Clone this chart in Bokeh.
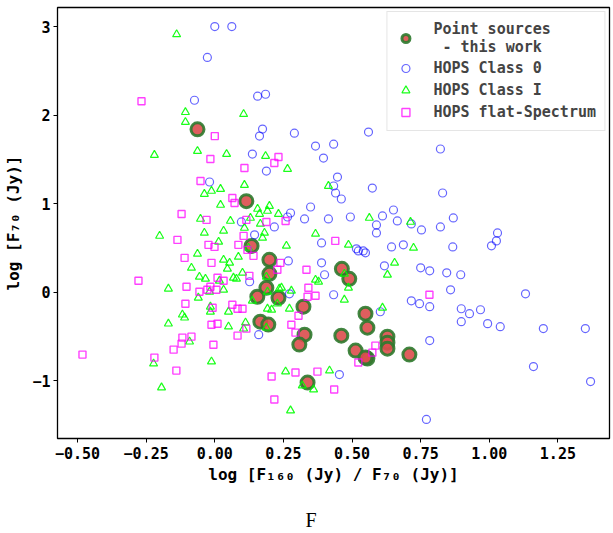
from bokeh.plotting import figure
from bokeh.models import (Range1d, FixedTicker, CustomJSTickFormatter, Legend,
                          LegendItem, LinearAxis)
from bokeh.embed import file_html
from bokeh.resources import INLINE

# ---------------- data ----------------
# Point sources - this work
ps_x = [-0.063, 0.115, 0.134, 0.199, 0.199, 0.188, 0.232, 0.155, 0.166, 0.195,
        0.323, 0.327, 0.308, 0.338, 0.463, 0.490, 0.549, 0.556, 0.461, 0.513,
        0.556, 0.549, 0.629, 0.629, 0.629, 0.709]
ps_y = [1.843, 1.032, 0.526, 0.369, 0.211, 0.053, -0.060, -0.048, -0.330, -0.363,
        -0.160, -0.477, -0.589, -1.018, 0.267, 0.154, -0.240, -0.398, -0.488, -0.657,
        -0.747, -0.736, -0.499, -0.567, -0.635, -0.702]

# HOPS Class 0
c0_x = [0.000, 0.062, -0.027, -0.074, 0.156, 0.185, 0.174, 0.163, 0.290, 0.367,
        0.433, 0.396, 0.560, 0.822, 0.137, 0.188, -0.019, 0.447, 0.433, 0.440,
        0.461, 0.574, 0.830, 0.349, 0.276, 0.265, 0.327, 0.414, 0.494, 0.611,
        0.651, 0.665, 0.589, 0.589, 0.753, 0.822, 0.869, 0.716, 0.217, 0.097,
        0.145, 1.030, 1.026, 1.008, 0.389, 0.644, 0.687, 0.516, 0.523, 0.541,
        0.549, 0.867, 0.268, 0.389, 0.400, 0.618, 0.750, 0.783, 0.845, 0.896,
        0.859, 1.132, 0.272, 0.433, 0.127, 0.160, 0.603, 0.716, 0.746, 0.783,
        0.898, 0.928, 0.968, 0.898, 0.994, 1.040, 1.197, 1.350, 0.783, 1.161,
        1.369, 0.454, 0.771]
c0_y = [3.005, 3.005, 2.656, 2.172, 2.218, 2.240, 1.846, 1.767, 1.800, 1.654,
        1.676, 1.519, 1.812, 1.621, 1.564, 1.372, 1.248, 1.304, 1.203, 1.124,
        1.056, 1.180, 1.124, 0.966, 0.898, 0.853, 0.831, 0.831, 0.853, 0.865,
        0.932, 0.808, 0.763, 0.673, 0.707, 0.741, 0.842, 0.775, 0.741, 0.797,
        0.651, 0.673, 0.583, 0.527, 0.560, 0.515, 0.538, 0.493, 0.470, 0.470,
        0.448, 0.515, 0.357, 0.335, 0.200, 0.301, 0.278, 0.245, 0.222, 0.200,
        0.030, -0.015, -0.015, -0.026, 0.121, -0.477, -0.218, -0.094, -0.127, -0.161,
        -0.184, -0.240, -0.195, -0.330, -0.352, -0.386, -0.408, -0.408, -0.544, -0.837,
        -1.007, -0.928, -1.435]

# HOPS Class I
c1_x = [-0.139, -0.107, -0.107, 0.105, -0.220, -0.063, 0.043, 0.185, 0.265, 0.108,
        0.414, -0.038, -0.012, 0.021, 0.021, 0.156, 0.199, 0.192, 0.163, 0.232,
        -0.052, 0.057, 0.130, 0.166, 0.367, -0.038, 0.032, 0.108, 0.181, 0.174,
        -0.201, 0.563, 0.713, 0.261, 0.487, 0.724, 0.655, 0.629, 0.472, 0.367,
        0.378, 0.487, 0.279, 0.472, 0.272, 0.611, 0.243, 0.235, 0.192, 0.188,
        0.258, 0.418, 0.319, 0.360, 0.276, 0.014, -0.063, 0.086, 0.032, 0.054,
        0.123, -0.085, 0.046, 0.101, -0.056, -0.034, 0.017, 0.068, 0.079, -0.169,
        -0.019, 0.032, -0.060, -0.016, -0.016, 0.050, 0.137, 0.112, 0.105, 0.050,
        0.188, -0.110, -0.118, -0.092, -0.169, -0.223, -0.012, -0.194, 0.207, 0.228,
        0.192]
c1_y = [2.916, 2.037, 1.925, 2.015, 1.553, 1.598, 1.564, 1.541, 1.395, 1.214,
        1.203, 1.113, 1.147, 1.169, 0.989, 0.944, 0.977, 0.921, 0.887, 0.887,
        0.831, 0.808, 0.842, 0.775, 0.662, 0.673, 0.696, 0.729, 0.673, 0.617,
        0.639, 0.842, 0.797, 0.527, 0.538, 0.504, 0.335, 0.200, 0.211, 0.143,
        0.121, 0.053, 0.019, -0.082, -0.184, -0.173, 0.053, 0.042, 0.008, 0.177,
        -0.894, -0.883, -1.052, -1.097, -1.334, 0.572, 0.436, 0.402, 0.369, 0.335,
        0.504, 0.278, 0.267, 0.222, 0.177, 0.154, 0.132, 0.166, 0.154, 0.042,
        0.008, 0.030, -0.060, -0.161, -0.218, -0.218, -0.094, -0.341, -0.409, -0.386,
        -0.398, -0.285, -0.251, -0.556, -0.353, -0.804, -0.781, -1.074, -0.195, -0.127,
        -0.184]

# HOPS flat-Spectrum
fs_x = [-0.267, 0.000, -0.016, 0.108, 0.232, 0.217, -0.052, 0.064, 0.072, -0.121,
        -0.030, 0.115, 0.188, 0.258, -0.136, 0.105, -0.023, -0.001, 0.086, 0.119,
        0.141, -0.110, -0.012, 0.239, 0.228, 0.334, 0.126, 0.010, 0.032, -0.278,
        -0.103, -0.056, -0.027, 0.006, -0.016, 0.341, 0.338, 0.367, -0.107, 0.064,
        0.083, 0.101, -0.008, 0.305, 0.279, 0.010, -0.012, 0.115, 0.083, 0.294,
        -0.118, -0.085, -0.121, -0.005, -0.482, -0.220, -0.150, -0.140, 0.207, 0.217,
        0.294, 0.374, 0.435, 0.782, 0.585, 0.574, 0.523, 0.439]
fs_y = [2.161, 1.767, 1.508, 1.406, 1.530, 1.463, 1.259, 1.068, 1.011, 0.887,
        0.820, 0.820, 0.797, 0.808, 0.594, 0.639, 0.538, 0.515, 0.538, 0.481,
        0.414, 0.391, 0.335, 0.335, 0.256, 0.256, 0.188, 0.166, 0.132, 0.132,
        0.064, 0.008, 0.030, 0.030, 0.064, 0.053, -0.048, -0.037, -0.127, -0.139,
        -0.184, -0.184, -0.173, -0.263, -0.364, -0.353, -0.364, -0.409, -0.488, -0.454,
        -0.510, -0.499, -0.578, -0.590, -0.702, -0.736, -0.646, -0.883, -0.950, -1.210,
        -0.905, -0.894, -1.097, -0.026, -0.601, -0.680, -0.792, 0.583]

x_ticks = [-0.5, -0.25, 0.0, 0.25, 0.5, 0.75, 1.0, 1.25]
y_ticks = [-1, 0, 1, 2, 3]

x_label = "log [F\u2081\u2086\u2080 (Jy) / F\u2087\u2080 (Jy)]"
y_label = "log [F\u2087\u2080 (Jy)]"
legend_labels = ["Point sources\n - this work", "HOPS Class 0", "HOPS Class I",
                 "HOPS flat-Spectrum"]
caption = "F"

MONO = "DejaVu Sans Mono"

# ---------------- figure ----------------
p = figure(width=613, height=533, output_backend="svg", toolbar_location=None,
           x_range=Range1d(-0.573, 1.438), y_range=Range1d(-1.65, 3.22),
           min_border_left=57, min_border_right=4, min_border_top=7,
           min_border_bottom=94)

p.background_fill_color = "white"
p.border_fill_color = "white"
p.grid.visible = False
p.outline_line_color = "black"
p.outline_line_width = 1.3

r_ps = p.scatter(ps_x, ps_y, marker="circle", size=13, fill_color="#db4d4d",
                 fill_alpha=0.9, line_color="#2e7a2e", line_width=3, line_alpha=0.9)
r_c0 = p.scatter(c0_x, c0_y, marker="circle", size=8, fill_color=None,
                 line_color="#0000ff", line_alpha=0.6, line_width=1.2)
r_c1 = p.scatter(c1_x, c1_y, marker="triangle", size=8, fill_color=None,
                 line_color="#00ff00", line_alpha=0.9, line_width=1.2)
r_fs = p.scatter(fs_x, fs_y, marker="square", size=7, fill_color=None,
                 line_color="#ff00ff", line_alpha=0.75, line_width=1.4)

p.xaxis.ticker = FixedTicker(ticks=x_ticks)
p.yaxis.ticker = FixedTicker(ticks=y_ticks)
p.xaxis.formatter = CustomJSTickFormatter(
    code="return tick.toFixed(2).replace('-', '\u2212');")
p.yaxis.formatter = CustomJSTickFormatter(
    code="return tick.toFixed(0).replace('-', '\u2212');")

for ax in (p.xaxis[0], p.yaxis[0]):
    ax.axis_line_color = None
    ax.major_tick_line_color = "black"
    ax.major_tick_out = 4
    ax.major_tick_in = 0
    ax.minor_tick_out = 0
    ax.minor_tick_in = 0
    ax.major_label_text_font = MONO
    ax.major_label_text_font_style = "bold"
    ax.major_label_text_font_size = "15px"
    ax.major_label_text_color = "black"
    ax.axis_label_text_font = MONO
    ax.axis_label_text_font_style = "bold"
    ax.axis_label_text_font_size = "16px"
    ax.axis_label_text_color = "black"

p.xaxis.axis_label = x_label
p.yaxis.axis_label = y_label
p.xaxis.major_label_standoff = 4
p.yaxis.major_label_standoff = 3
p.xaxis.axis_label_standoff = 3
p.yaxis.axis_label_standoff = 6

# caption below the x axis label (an empty axis that carries only a label)
cap_axis = LinearAxis(ticker=FixedTicker(ticks=[]), axis_label=caption + "\u00a0" * 9,
                      axis_line_color=None, major_tick_out=0, major_tick_in=0,
                      minor_tick_out=0, minor_tick_in=0,
                      major_label_text_font_size="0px", major_label_standoff=0,
                      axis_label_standoff=22,
                      axis_label_text_font="Liberation Serif",
                      axis_label_text_font_style="normal",
                      axis_label_text_font_size="20px",
                      axis_label_text_color="black")
p.add_layout(cap_axis, "below")

legend = Legend(items=[LegendItem(label=legend_labels[0], renderers=[r_ps]),
                       LegendItem(label=legend_labels[1], renderers=[r_c0]),
                       LegendItem(label=legend_labels[2], renderers=[r_c1]),
                       LegendItem(label=legend_labels[3], renderers=[r_fs])],
                location="top_right", margin=4, padding=8, spacing=2,
                glyph_width=20, glyph_height=20, label_height=20,
                label_standoff=18,
                label_text_font=MONO, label_text_font_style="bold",
                label_text_font_size="15px",
                border_line_color="#cccccc", border_line_width=1,
                background_fill_color="white", background_fill_alpha=0.8)
p.add_layout(legend)

open("out.html", "w").write(file_html(p, INLINE))
